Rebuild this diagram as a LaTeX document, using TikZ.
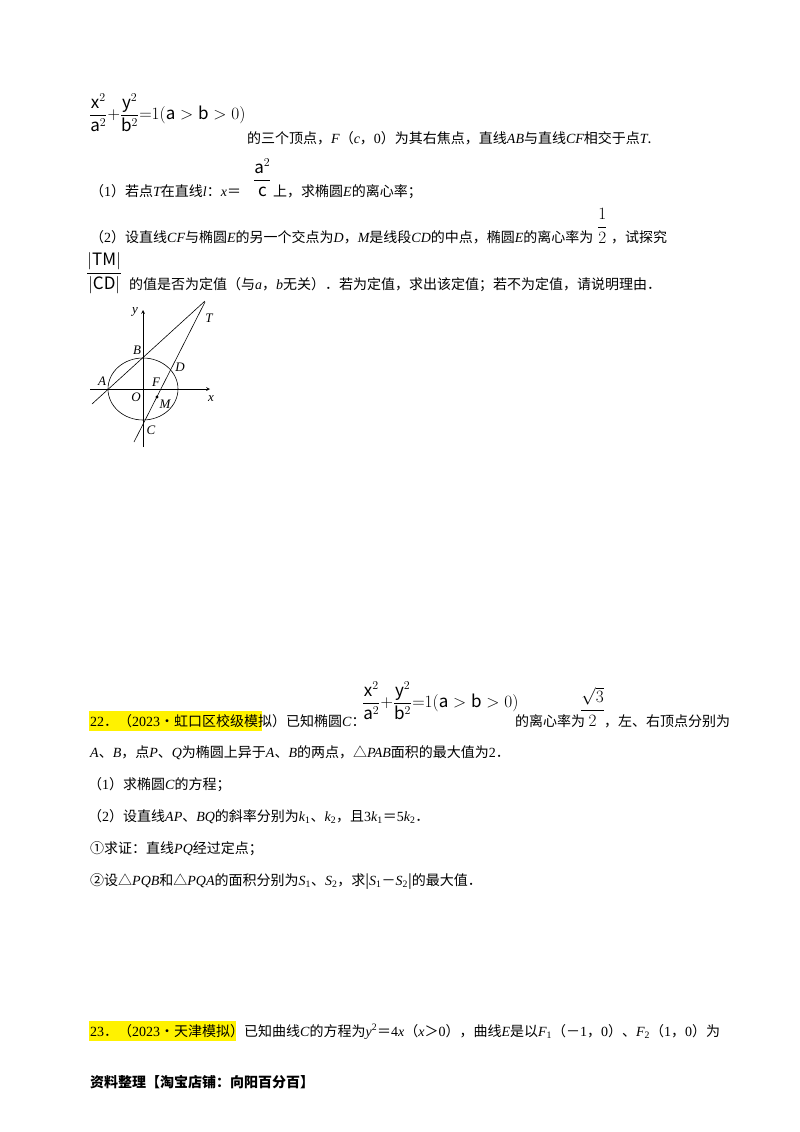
\documentclass[tikz,border=0pt]{standalone}
\usepackage{fontspec}
\setmainfont{Noto Sans CJK SC}
\newfontfamily\lat{Liberation Serif}
\newcommand{\iv}[1]{{\lat\itshape #1}}
\newcommand{\rv}[1]{{\lat #1}}
\begin{document}
\begin{tikzpicture}[x=1pt,y=-1pt,
  txt/.style={anchor=base west,inner sep=0pt,font=\fontsize{14}{17}\selectfont},
  frm/.style={anchor=west,inner sep=0pt,font=\fontsize{17}{20}\selectfont},
  lbl/.style={inner sep=0pt,font=\fontsize{13}{15}\lat\itshape},
  hl/.style={fill=yellow,draw=none}]
\useasboundingbox (0,0) rectangle (800,1132);
\fill[white] (0,0) rectangle (800,1132);
% Problem 21 tail
\node[frm] (f1) at (89,113) {$\displaystyle\frac{\mathrm{x}^2}{\mathrm{a}^2}{+}\frac{\mathrm{y}^2}{\mathrm{b}^2}{=}1(\mathrm{a}>\mathrm{b}>0)$};
\node[txt] (l1) at (247,143) {的三个顶点，\iv{F}（\iv{c}，\rv{0}）为其右焦点，直线\iv{AB}与直线\iv{CF}相交于点\iv{T}.};
\node[txt] (l2) at (90,196) {（\rv{1}）若点\iv{T}在直线\iv{l}：\iv{x}＝};
\node[frm] (f2) at (253,178) {$\displaystyle\frac{\mathrm{a}^2}{\mathrm{c}}$};
\node[txt] (l2b) at (273,196) {上，求椭圆\iv{E}的离心率；};
\node[txt] (l3) at (90,242) {（\rv{2}）设直线\iv{CF}与椭圆\iv{E}的另一个交点为\iv{D}，\iv{M}是线段\iv{CD}的中点，椭圆\iv{E}的离心率为};
\node[frm] (f3) at (597,226) {$\displaystyle\frac{1}{2}$};
\node[txt] (l3b) at (611,242) {，试探究};
\node[frm] (f4) at (86,273) {$\displaystyle\frac{|\mathrm{TM}|}{|\mathrm{CD}|}$};
\node[txt] (l4) at (129,289) {的值是否为定值（与\iv{a}，\iv{b}无关）．若为定值，求出该定值；若不为定值，请说明理由．};
% figure
\coordinate (O) at (143,389);
\coordinate (M) at (157,397);
\draw[line width=0.7pt,-stealth] (90,389) -- (210,389);
\draw[line width=0.7pt,-stealth] (143,447) -- (143,310);
\draw[line width=0.6pt] (O) ellipse [x radius=35, y radius=31];
\draw[line width=0.6pt] (92,404) -- (205,301);
\draw[line width=0.6pt] (134,442) -- (205,302);
\fill (M) circle (1.6);
\node[lbl] (ly) at (135,312) {y};
\node[lbl] (lT) at (209,318) {T};
\node[lbl] (lB) at (137,350) {B};
\node[lbl] (lD) at (180,367) {D};
\node[lbl] (lA) at (102,381) {A};
\node[lbl] (lF) at (156,382) {F};
\node[lbl] (lO) at (136,397) {O};
\node[lbl] (lM) at (165,404) {M};
\node[lbl] (lx) at (211,399) {x};
\node[lbl] (lC) at (151,430) {C};
% Problem 22
\fill[hl] (89,711) rectangle (262,731);
\node[txt] (p22) at (90,726) {\rv{22}．（\rv{2023}•虹口区校级模拟）已知椭圆\iv{C}：};
\node[frm] (f5) at (362,701) {$\displaystyle\frac{\mathrm{x}^2}{\mathrm{a}^2}{+}\frac{\mathrm{y}^2}{\mathrm{b}^2}{=}1(\mathrm{a}>\mathrm{b}>0)$};
\node[txt] (p22b) at (515,726) {的离心率为};
\node[frm] (f6) at (580,707) {$\displaystyle\frac{\sqrt{3}}{2}$};
\node[txt] (p22c) at (604,726) {，左、右顶点分别为};
\node[txt] (q1) at (90,757) {\iv{A}、\iv{B}，点\iv{P}、\iv{Q}为椭圆上异于\iv{A}、\iv{B}的两点，△\iv{PAB}面积的最大值为\rv{2}．};
\node[txt] (q2) at (88,789) {（\rv{1}）求椭圆\iv{C}的方程；};
\node[txt] (q3) at (88,821) {（\rv{2}）设直线\iv{AP}、\iv{BQ}的斜率分别为\iv{k}\rv{\textsubscript{1}}、\iv{k}\rv{\textsubscript{2}}，且\rv{3}\iv{k}\rv{\textsubscript{1}}＝\rv{5}\iv{k}\rv{\textsubscript{2}}．};
\node[txt] (q4) at (90,853) {①求证：直线\iv{PQ}经过定点；};
\node[txt] (q5) at (90,885) {②设△\iv{PQB}和△\iv{PQA}的面积分别为\iv{S}\rv{\textsubscript{1}}、\iv{S}\rv{\textsubscript{2}}，求|\iv{S}\rv{\textsubscript{1}}－\iv{S}\rv{\textsubscript{2}}|的最大值．};
% Problem 23
\fill[hl] (89,1021) rectangle (236,1041);
\node[txt] (p23) at (90,1036) {\rv{23}．（\rv{2023}•天津模拟）已知曲线\iv{C}的方程为\iv{y}\rv{\textsuperscript{2}}＝\rv{4}\iv{x}（\iv{x}＞\rv{0}），曲线\iv{E}是以\iv{F}\rv{\textsubscript{1}}（－\rv{1}，\rv{0}）、\iv{F}\rv{\textsubscript{2}}（\rv{1}，\rv{0}）为};
\node[txt] (foot) at (90,1087) {\bfseries 资料整理【淘宝店铺：向阳百分百】};
\end{tikzpicture}
\end{document}
